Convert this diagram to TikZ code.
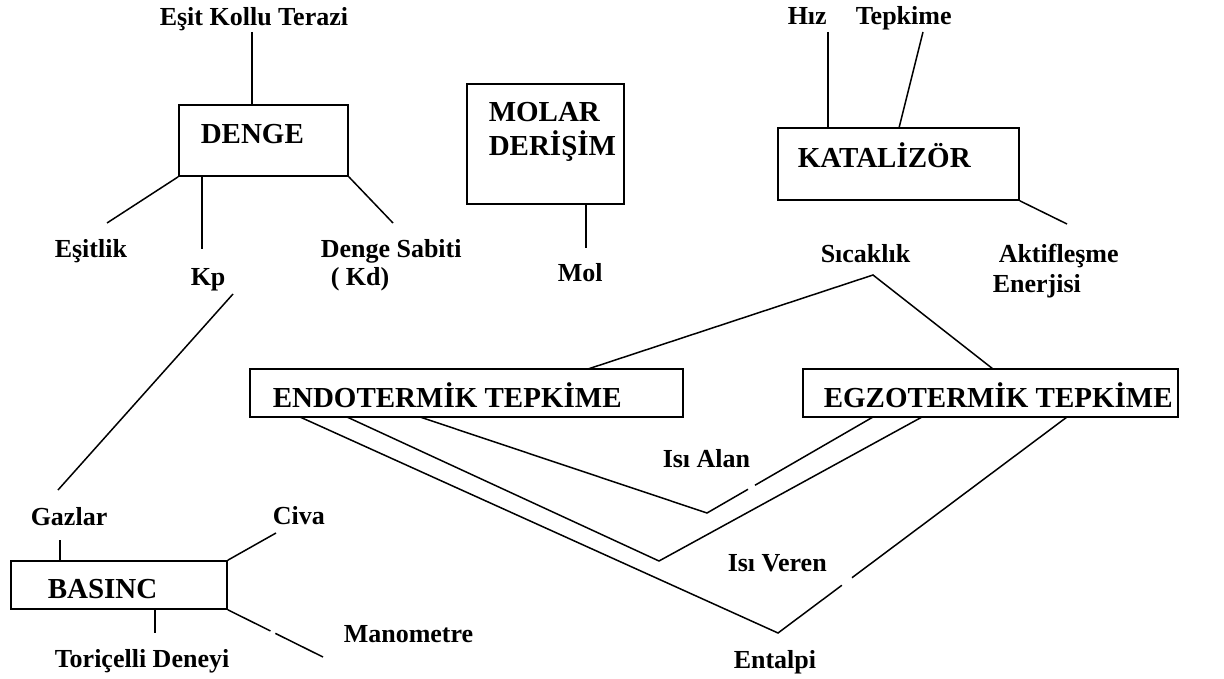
\documentclass[tikz,border=0pt]{standalone}
\usepackage{fontspec}
\setmainfont{Liberation Serif}
\usetikzlibrary{calc}
\begin{document}
\begin{tikzpicture}[x=1pt,y=-1pt,
  line width=1.5pt,
  lbl/.style={font=\fontsize{26}{28}\selectfont\bfseries, inner sep=0pt, anchor=base west},
  boxlbl/.style={font=\fontsize{29}{31}\selectfont\bfseries, inner sep=0pt, anchor=base west},
  conceptbox/.style={draw, rectangle, inner sep=0pt, line width=1.6pt}]
\useasboundingbox (0,0) rectangle (1224,679);

% concept boxes (placed by centre, sized in pt)
\node[conceptbox, minimum width=157pt, minimum height=120pt] (molar) at (545.5,144) {};
\node[conceptbox, minimum width=169pt, minimum height=71pt] (denge) at (263.5,140.5) {};
\node[conceptbox, minimum width=241pt, minimum height=72pt] (kat) at (898.5,164) {};
\node[conceptbox, minimum width=216pt, minimum height=48pt] (basinc) at (119,585) {};
\node[conceptbox, minimum width=433pt, minimum height=48pt] (endo) at (466.5,393) {};
\node[conceptbox, minimum width=375pt, minimum height=48pt] (egzo) at (990.5,393) {};

% box titles
\node[boxlbl] (dengeT) at (200,144) {DENGE};
\node[boxlbl] (molarT) at (488,122) {MOLAR};
\node[boxlbl] (derisimT) at (488,156) {DERİŞİM};
\node[boxlbl] (katT) at (797,168) {KATALİZÖR};
\node[boxlbl] (basincT) at (47,598) {BASINC};
\node[boxlbl] (endoT) at (272,407) {ENDOTERMİK TEPKİME};
\node[boxlbl] (egzoT) at (823,407) {EGZOTERMİK TEPKİME};

% linked terms
\node[lbl] (terazi) at (159,26) {Eşit Kollu Terazi};
\node[lbl] (esitlik) at (54,258) {Eşitlik};
\node[lbl] (kp) at (190,285) {Kp};
\node[lbl] (sabiti) at (320,258) {Denge Sabiti};
\node[lbl] (kd) at (330,285) {( Kd)};
\node[lbl] (mol) at (557,282) {Mol};
\node[lbl] (hiz) at (787,25) {Hız};
\node[lbl] (tepkime) at (855,25) {Tepkime};
\node[lbl] (sicaklik) at (820,263) {Sıcaklık};
\node[lbl] (aktif) at (998,263) {Aktifleşme};
\node[lbl] (enerji) at (992,293) {Enerjisi};
\node[lbl] (isialan) at (662,467) {Isı Alan};
\node[lbl] (isiveren) at (727,571) {Isı Veren};
\node[lbl] (entalpi) at (733,668) {Entalpi};
\node[lbl] (gazlar) at (30,525) {Gazlar};
\node[lbl] (civa) at (272,524) {Civa};
\node[lbl] (manometre) at (343,642) {Manometre};
\node[lbl] (toricelli) at (54,667) {Toriçelli Deneyi};

% free ends of the connectors
\coordinate (teraziE) at (252,32);
\coordinate (esitlikE) at (107,223);
\coordinate (kpE) at (202,249);
\coordinate (sabitiE) at (393,223);
\coordinate (kpLow) at (233,294);
\coordinate (gazlarHigh) at (58,490);
\coordinate (gazlarE) at (60,540);
\coordinate (civaE) at (276,533);
\coordinate (manoE) at (323,657);
\coordinate (toriE) at (155,633);
\coordinate (molE) at (586,248);
\coordinate (hizE) at (828,32);
\coordinate (tepE) at (923,32);
\coordinate (tepB) at (899,128);
\coordinate (aktifE) at (1067,224);
\coordinate (sicApex) at (873,275);
\coordinate (endoTop) at (588,369);
\coordinate (egzoTop) at (993,369);
\coordinate (alanV) at (707,513);
\coordinate (verenV) at (659,561);
\coordinate (entalpiV) at (778,633);
\coordinate (endoA) at (420,417);
\coordinate (endoB) at (347,417);
\coordinate (endoC) at (300,417);
\coordinate (egzoA) at (873,417);
\coordinate (egzoB) at (922,417);
\coordinate (egzoC) at (1067,417);

% DENGE
\draw (teraziE) -- (teraziE |- denge.north);
\draw (denge.south west) -- (esitlikE);
\draw (kpE |- denge.south) -- (kpE);
\draw (denge.south east) -- (sabitiE);

% Kp to Gazlar to BASINC
\draw (kpLow) -- (gazlarHigh);
\draw (gazlarE) -- (gazlarE |- basinc.north);
\draw (basinc.north east) -- (civaE);
\draw (basinc.south east) -- ($(basinc.south east)!0.448!(manoE)$);
\draw ($(basinc.south east)!0.5!(manoE)$) -- (manoE);
\draw (toriE |- basinc.south) -- (toriE);

% MOLAR DERİŞİM
\draw (molE |- molar.south) -- (molE);

% KATALİZÖR
\draw (hizE) -- (hizE |- kat.north);
\draw (tepE) -- (tepB);
\draw (kat.south east) -- (aktifE);

% Sıcaklık
\draw (endoTop) -- (sicApex) -- (egzoTop);

% Isı Alan
\draw (endoA) -- (alanV) -- ($(alanV)!0.247!(egzoA)$);
\draw ($(alanV)!0.289!(egzoA)$) -- (egzoA);
% Isı Veren
\draw (endoB) -- (verenV) -- (egzoB);
% Entalpi
\draw (endoC) -- (entalpiV) -- ($(entalpiV)!0.221!(egzoC)$);
\draw ($(entalpiV)!0.256!(egzoC)$) -- (egzoC);
\end{tikzpicture}
\end{document}
